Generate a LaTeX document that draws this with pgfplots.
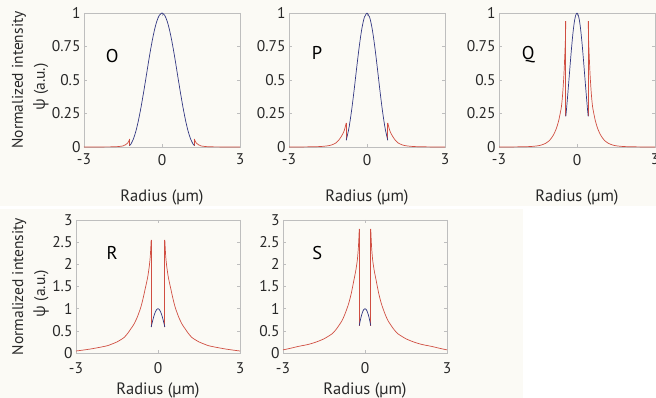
\documentclass[border=0pt]{standalone}
\usepackage{fontspec}
\setmainfont{PT Sans}
\newfontfamily\greekfont{Open Sans}
\usepackage{pgfplots}
\usepackage{pgfplotstable}
\pgfplotsset{compat=1.18}

\definecolor{bgpanel}{RGB}{251,250,245}
\definecolor{axgray}{RGB}{190,190,190}
\definecolor{coreblue}{RGB}{50,55,130}
\definecolor{cladred}{RGB}{208,78,66}
\definecolor{txt}{RGB}{40,40,40}

% Core field (r >= 0), mirrored to negative radius when plotted
\pgfplotstableread{
r psi
0 1
0.1 0.984
0.2 0.938
0.3 0.864
0.4 0.768
0.5 0.657
0.6 0.536
0.7 0.417
0.8 0.304
0.9 0.204
1.0 0.121
1.1 0.060
1.2 0.020
1.24 0.011
}\coreO
% Cladding field: first row is the foot of the jump at the core edge
\pgfplotstableread{
r psi
1.24 0.011
1.24 0.060
1.3 0.035
1.4 0.017
1.5 0.008
1.7 0.003
2.0 0.001
3.0 0
}\cladO

\pgfplotstableread{
r psi
0 1
0.1 0.969
0.2 0.881
0.3 0.747
0.4 0.586
0.5 0.417
0.6 0.262
0.7 0.136
0.8 0.050
}\coreP
\pgfplotstableread{
r psi
0.8 0.050
0.8 0.180
0.85 0.140
0.9 0.110
1.0 0.075
1.1 0.048
1.2 0.030
1.35 0.016
1.5 0.009
1.75 0.004
2.0 0.002
2.5 0.0005
3.0 0
}\cladP

\pgfplotstableread{
r psi
0 1
0.05 0.984
0.1 0.936
0.15 0.860
0.2 0.761
0.25 0.647
0.3 0.525
0.35 0.405
0.4 0.290
0.43 0.228
}\coreQ
\pgfplotstableread{
r psi
0.43 0.228
0.43 0.940
0.45 0.780
0.5 0.550
0.55 0.400
0.6 0.300
0.7 0.200
0.8 0.135
0.9 0.092
1.0 0.062
1.1 0.042
1.2 0.028
1.35 0.016
1.5 0.009
1.75 0.004
2.0 0.002
2.5 0.0005
3.0 0
}\cladQ

\pgfplotstableread{
r psi
0 1
0.05 0.980
0.1 0.922
0.15 0.832
0.2 0.716
0.25 0.586
}\coreR
\pgfplotstableread{
r psi
0.25 0.586
0.25 2.55
0.28 2.20
0.32 1.95
0.38 1.70
0.45 1.50
0.55 1.22
0.63 1.03
0.75 0.82
0.88 0.65
1.0 0.54
1.1 0.45
1.24 0.35
1.5 0.25
1.85 0.165
2.2 0.120
2.5 0.087
2.75 0.065
3.0 0.045
}\cladR

\pgfplotstableread{
r psi
0 1
0.05 0.976
0.1 0.905
0.15 0.796
0.21 0.620
}\coreS
\pgfplotstableread{
r psi
0.21 0.620
0.21 2.80
0.24 2.40
0.28 2.10
0.34 1.85
0.41 1.63
0.5 1.35
0.6 1.11
0.72 0.90
0.84 0.73
1.0 0.58
1.1 0.50
1.21 0.43
1.5 0.32
1.82 0.24
2.1 0.19
2.43 0.15
2.7 0.11
3.0 0.07
}\cladS

\tikzset{panelletter/.style={font=\fontsize{18.5}{20}\selectfont, text=black}}

\pgfplotsset{
  modepanel/.style={
    scale only axis,
    xmin=-3, xmax=3, ymin=0,
    xtick={-3,0,3}, xticklabels={-3,0,3},
    axis line style={axgray, line width=0.6pt},
    tick style={axgray, line width=0.5pt},
    major tick length=3pt,
    tick align=inside,
    tick label style={font=\fontsize{15.5}{17}\selectfont, text=txt},
    xlabel style={font=\fontsize{16.5}{19}\selectfont, text=txt},
    ylabel style={font=\fontsize{15.5}{19}\selectfont, text=txt},
    xlabel={Radius (µm)},
    clip=false,
  },
  toprow/.style={
    modepanel, width=156pt, height=134pt, ymax=1,
    ytick={0,0.25,0.5,0.75,1}, yticklabels={0,0.25,0.5,0.75,1},
    xticklabel style={yshift=-3.5pt},
    xlabel style={at={(axis description cs:0.5,-0.38)}, anchor=center},
  },
  bottomrow/.style={
    modepanel, width=164pt, height=133pt, ymax=3,
    ytick={0,0.5,1,1.5,2,2.5,3}, yticklabels={0,0.5,1,1.5,2,2.5,3},
    xticklabel style={yshift=-6pt},
    xlabel style={at={(axis description cs:0.5,-0.285)}, anchor=center},
  },
}

\newcommand{\fieldpair}[2]{%
  % jump at the core edge (first two rows)
  \addplot[cladred, line width=0.7pt, skip coords between index={2}{1000}] table[x expr=-\thisrow{r}, y=psi]{#2};
  \addplot[cladred, line width=0.7pt, skip coords between index={2}{1000}] table[x=r, y=psi]{#2};
  % evanescent tail
  \addplot[cladred, line width=0.7pt, smooth, tension=0.4, skip coords between index={0}{1}] table[x expr=-\thisrow{r}, y=psi]{#2};
  \addplot[cladred, line width=0.7pt, smooth, tension=0.4, skip coords between index={0}{1}] table[x=r, y=psi]{#2};
  % core field
  \addplot[coreblue, line width=0.7pt, smooth] table[x expr=-\thisrow{r}, y=psi]{#1};
  \addplot[coreblue, line width=0.7pt, smooth] table[x=r, y=psi]{#1};
}
\newcommand{\intensitylabel}{Normalized intensity\\[3pt]{\greekfont ψ} (a.u.)\hspace*{14pt}}

\begin{document}
\begin{tikzpicture}[x=1pt, y=1pt]
  % panel backgrounds
  \fill[bgpanel] (0,192) rectangle (656,398);
  \fill[bgpanel] (0,0) rectangle (523,189);

  % ---- top row ----
  \begin{axis}[toprow, at={(84pt,251pt)}, anchor=south west,
      ylabel={\intensitylabel},
      ylabel style={align=center, at={(axis description cs:-0.345,0.5)}, anchor=center}]
    \fieldpair{\coreO}{\cladO}
    \node[panelletter] at (axis cs:-1.92,0.68) {O};
  \end{axis}

  \begin{axis}[toprow, at={(289pt,251pt)}, anchor=south west]
    \fieldpair{\coreP}{\cladP}
    \node[panelletter] at (axis cs:-1.92,0.70) {P};
  \end{axis}

  \begin{axis}[toprow, at={(499pt,251pt)}, anchor=south west]
    \fieldpair{\coreQ}{\cladQ}
    \node[panelletter] at (axis cs:-1.88,0.69) {Q};
  \end{axis}

  % ---- bottom row ----
  \begin{axis}[bottomrow, at={(76pt,45pt)}, anchor=south west,
      ylabel={\intensitylabel},
      ylabel style={align=center, at={(axis description cs:-0.278,0.5)}, anchor=center}]
    \fieldpair{\coreR}{\cladR}
    \node[panelletter] at (axis cs:-1.68,2.26) {R};
  \end{axis}

  \begin{axis}[bottomrow, at={(283pt,45pt)}, anchor=south west]
    \fieldpair{\coreS}{\cladS}
    \node[panelletter] at (axis cs:-1.75,2.26) {S};
  \end{axis}

  \pgfresetboundingbox
  \useasboundingbox (0,0) rectangle (656,398);
\end{tikzpicture}
\end{document}
